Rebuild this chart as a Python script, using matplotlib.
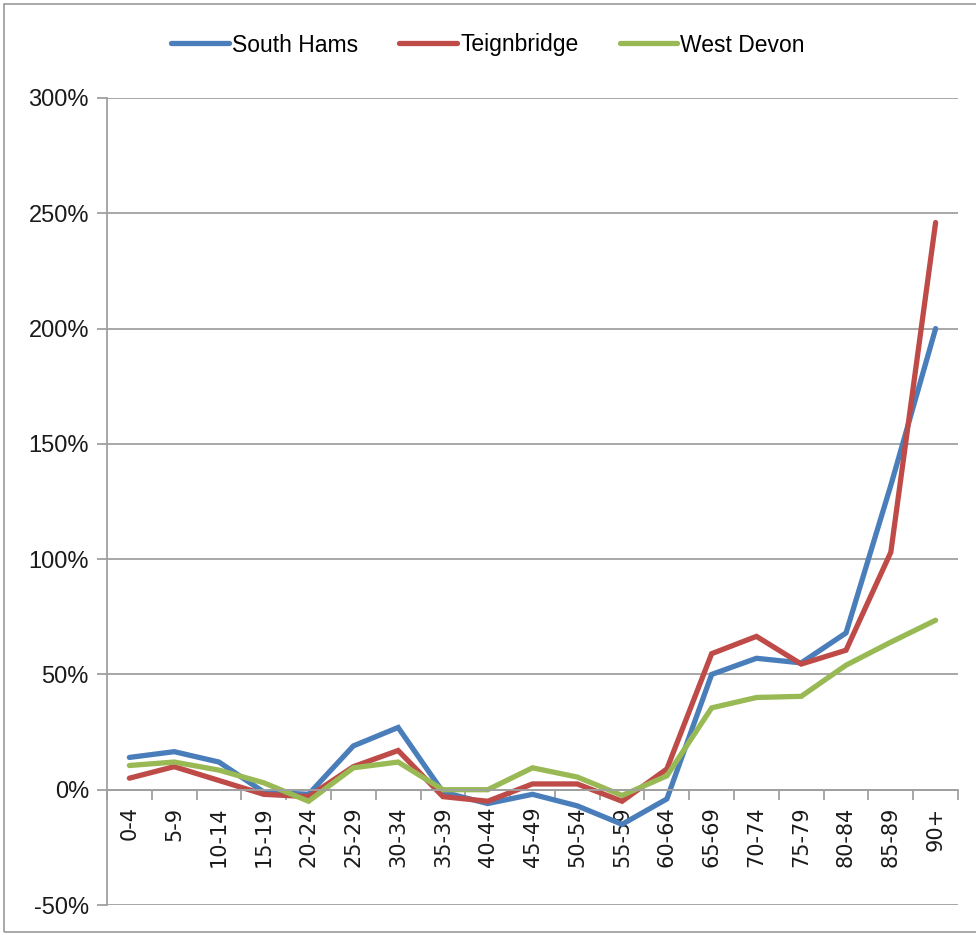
import matplotlib
matplotlib.use("Agg")
import matplotlib.pyplot as plt
from matplotlib.patches import Rectangle
from matplotlib.ticker import FixedLocator, FuncFormatter

# age bands and % change per district
ages = ['0-4', '5-9', '10-14', '15-19', '20-24', '25-29', '30-34', '35-39',
        '40-44', '45-49', '50-54', '55-59', '60-64', '65-69', '70-74',
        '75-79', '80-84', '85-89', '90+']
south_hams = [14, 16.5, 12, -1, -2, 19, 27, -1, -6, -2, -7, -15, -4,
              50, 57, 55, 68, 132, 200]
teignbridge = [5, 10, 4, -2, -3, 10, 17, -3, -5, 2.5, 2.5, -5, 9,
               59, 66.5, 54.5, 60.5, 103, 246]
west_devon = [10.5, 12, 8.5, 3, -5, 9.5, 12, 0, 0, 9.5, 5.5, -2.5, 6,
              35.5, 40, 40.5, 54, 64, 73.5]

series = [('South Hams', south_hams, '#4A7EBB'),
          ('Teignbridge', teignbridge, '#BE4B48'),
          ('West Devon', west_devon, '#98B954')]

W, H = 976, 935
fig = plt.figure(figsize=(W / 100, H / 100), dpi=100)
ax = fig.add_axes([107 / W, 1 - 905 / H, (958 - 107) / W, (905 - 98) / H])

# chart border
fig.patches.append(Rectangle((4 / W, 1 - 932 / H), 1.2, (932 - 4) / H,
                             transform=fig.transFigure, fill=False,
                             edgecolor='#9A9A9A', linewidth=1.2))

x = list(range(len(ages)))
for name, vals, col in series:
    ax.plot(x, vals, color=col, lw=3.8, label=name, solid_capstyle='round',
            solid_joinstyle='miter')

ax.set_xlim(-0.5, len(ages) - 0.5)
ax.set_ylim(-50, 300)
ax.set_yticks(range(-50, 301, 50))
ax.yaxis.set_major_formatter(FuncFormatter(lambda v, p: '%d%%' % v))
ax.grid(axis='y', color='#A0A0A0', lw=1.3)
ax.set_axisbelow(True)

for s in ['top', 'right']:
    ax.spines[s].set_visible(False)
ax.spines['left'].set_color('#A0A0A0')
ax.spines['left'].set_linewidth(1.3)
ax.spines['bottom'].set_position(('data', 0))
ax.spines['bottom'].set_color('#A0A0A0')
ax.spines['bottom'].set_linewidth(1.3)

ax.set_xticks(x)
ax.set_xticklabels(ages, rotation=90, fontsize=15, family='DejaVu Sans',
                   color='#1a1a1a')
ax.xaxis.set_minor_locator(FixedLocator([i + 0.5 for i in range(-1, len(ages))]))
ax.tick_params(axis='x', which='major', length=0, pad=12)
ax.tick_params(axis='x', which='minor', length=7, color='#A0A0A0', width=1.3,
               direction='out')
ax.tick_params(axis='y', length=7, color='#A0A0A0', width=1.3, pad=6,
               labelsize=17, labelcolor='#1a1a1a')
for t in ax.get_yticklabels():
    t.set_family('Liberation Sans')

leg = fig.legend(loc='center', bbox_to_anchor=(0.5, 1 - 45 / H), ncol=3,
                 frameon=False, handlelength=2.5,
                 handletextpad=0.15, columnspacing=1.8,
                 prop={'family': 'Liberation Sans', 'size': 16.5})

fig.savefig('out.png', dpi=100)
